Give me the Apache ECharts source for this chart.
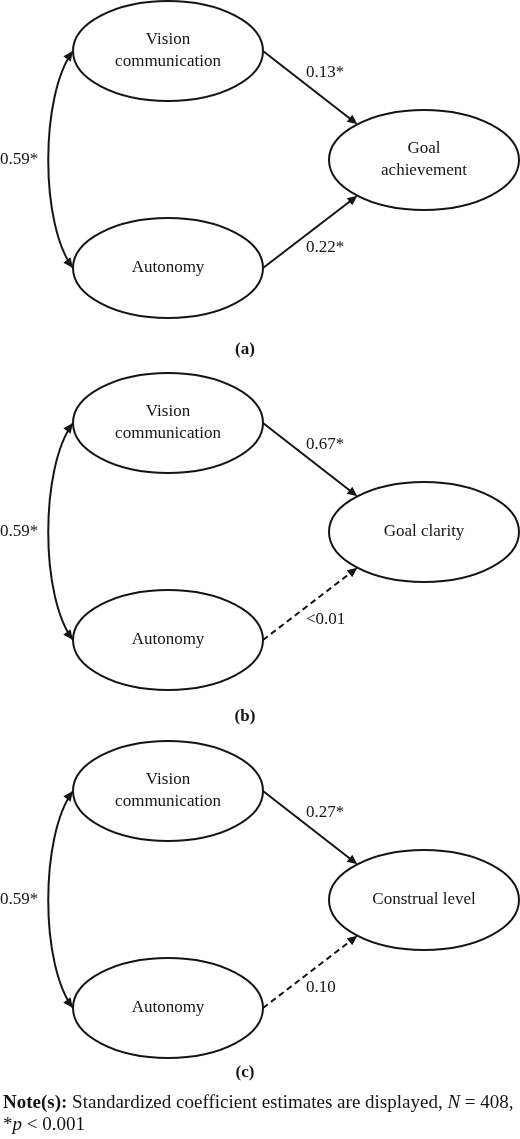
<!DOCTYPE html>
<html>
<head>
<meta charset="utf-8">
<script src="https://cdn.jsdelivr.net/npm/echarts@6/dist/echarts.min.js"></script>
<style>
  html, body { margin: 0; padding: 0; background: #ffffff; }
  #chart { width: 520px; height: 1139px; }
</style>
</head>
<body>
<div id="chart"></div>
<script>
// ---- data ----
const panelLabels = ['(a)', '(b)', '(c)'];
const predictorNames = ['Vision\ncommunication', 'Autonomy'];
const outcomeNames = ['Goal\nachievement', 'Goal clarity', 'Construal level'];
const visionCoef = ['0.13*', '0.67*', '0.27*'];
const autonomyCoef = ['0.22*', '<0.01', '0.10'];
const autonomySignificant = [true, false, false];
const correlationCoef = ['0.59*', '0.59*', '0.59*'];
const noteText = '{b|Note(s):} Standardized coefficient estimates are displayed, {i|N} = 408,\n*{i|p} < 0.001';

// ---- layout (diagram positions in axis units) ----
const outcomeCenterY = [160, 532, 900];
const panelLabelY = [350, 717, 1073];
const predictorX = 168, outcomeX = 424;
const visionDY = -109, autonomyDY = 108;
const RX = 95, RY = 50;
const INK = '#141414';
const FONT = '17px "Liberation Serif", "Times New Roman", serif';

function renderItem(params, api) {
  const i = params.dataIndex;
  const cy = outcomeCenterY[i];
  const vy = cy + visionDY, ay = cy + autonomyDY;
  const c = (x, y) => api.coord([x, y]);
  const sz = api.size([RX, RY]);
  const rx = Math.abs(sz[0]), ry = Math.abs(sz[1]);
  const children = [];

  function arrowHead(tip, ux, uy) {
    const AL = 10, AW = 4.5;
    const bx = tip[0] - ux * AL, by = tip[1] - uy * AL;
    children.push({ type: 'polygon', shape: { points: [tip, [bx - uy * AW, by + ux * AW], [bx + uy * AW, by - ux * AW]] }, style: { fill: INK } });
  }
  function arrow(p0, p1, dashed) {
    const dx = p1[0] - p0[0], dy = p1[1] - p0[1], L = Math.hypot(dx, dy);
    const ux = dx / L, uy = dy / L;
    const e = [p1[0] - ux * 8, p1[1] - uy * 8];
    children.push({ type: 'line', shape: { x1: p0[0], y1: p0[1], x2: e[0], y2: e[1] },
      style: { stroke: INK, lineWidth: 2, lineDash: dashed ? [6, 4] : null } });
    arrowHead(p1, ux, uy);
  }
  function ellipseNode(x, y, label) {
    const p = c(x, y);
    children.push({ type: 'ellipse', shape: { cx: p[0], cy: p[1], rx: rx, ry: ry },
      style: { fill: '#ffffff', stroke: INK, lineWidth: 2 } });
    children.push({ type: 'text', x: p[0], y: p[1],
      style: { text: label, font: FONT, fill: INK, align: 'center', verticalAlign: 'middle', lineHeight: 22 } });
  }
  function label(x, y, text, bold, align) {
    const p = c(x, y);
    children.push({ type: 'text', x: p[0], y: p[1],
      style: { text: text, font: (bold ? 'bold ' : '') + FONT, fill: INK, align: align || 'left', verticalAlign: 'middle' } });
  }

  // correlation curve (double-headed)
  const s0 = c(predictorX - RX, vy), s3 = c(predictorX - RX, ay);
  const s1 = c(predictorX - RX - 33, vy + 44), s2 = c(predictorX - RX - 33, ay - 43);
  children.push({ type: 'bezierCurve', shape: { x1: s0[0], y1: s0[1], cpx1: s1[0], cpy1: s1[1], cpx2: s2[0], cpy2: s2[1], x2: s3[0], y2: s3[1] },
    style: { stroke: INK, lineWidth: 2, fill: null } });
  {
    let dx = s0[0] - s1[0], dy = s0[1] - s1[1], L = Math.hypot(dx, dy);
    arrowHead(s0, dx / L, dy / L);
    dx = s3[0] - s2[0]; dy = s3[1] - s2[1]; L = Math.hypot(dx, dy);
    arrowHead(s3, dx / L, dy / L);
  }

  // paths to outcome
  const th1 = 225.5 * Math.PI / 180, th2 = 134.5 * Math.PI / 180;
  const tUp = c(outcomeX + RX * Math.cos(th1), cy + RY * Math.sin(th1));
  const tDn = c(outcomeX + RX * Math.cos(th2), cy + RY * Math.sin(th2));
  arrow(c(predictorX + RX, vy), tUp, false);
  arrow(c(predictorX + RX, ay), tDn, !autonomySignificant[i]);

  ellipseNode(predictorX, vy, predictorNames[0]);
  ellipseNode(predictorX, ay, predictorNames[1]);
  ellipseNode(outcomeX, cy, outcomeNames[i]);

  label(306, cy - 87, visionCoef[i]);
  label(306, cy + 88, autonomyCoef[i]);
  label(0, cy, correlationCoef[i]);
  label(245, panelLabelY[i], panelLabels[i], true, 'center');

  return { type: 'group', children: children };
}

const chart = echarts.init(document.getElementById('chart'), null, { renderer: 'canvas' });
chart.setOption({
  animation: false,
  backgroundColor: '#ffffff',
  title: {
    text: noteText,
    left: 3, top: 1092, padding: 0,
    textStyle: {
      fontFamily: '"Liberation Serif", "Times New Roman", serif', fontSize: 19, fontWeight: 'normal',
      color: INK, lineHeight: 22,
      rich: {
        b: { fontFamily: '"Liberation Serif", serif', fontSize: 19, fontWeight: 'bold', color: INK, lineHeight: 22 },
        i: { fontFamily: '"Liberation Serif", serif', fontSize: 19, fontStyle: 'italic', color: INK, lineHeight: 22 }
      }
    }
  },
  grid: { left: 0, right: 0, top: 0, bottom: 0 },
  xAxis: { type: 'value', min: 0, max: 520, show: false },
  yAxis: { type: 'value', min: 0, max: 1139, inverse: true, show: false },
  series: [{
    type: 'custom',
    coordinateSystem: 'cartesian2d',
    clip: false,
    data: panelLabels.map((p, i) => [outcomeX, outcomeCenterY[i]]),
    renderItem: renderItem
  }]
});
</script>
</body>
</html>
